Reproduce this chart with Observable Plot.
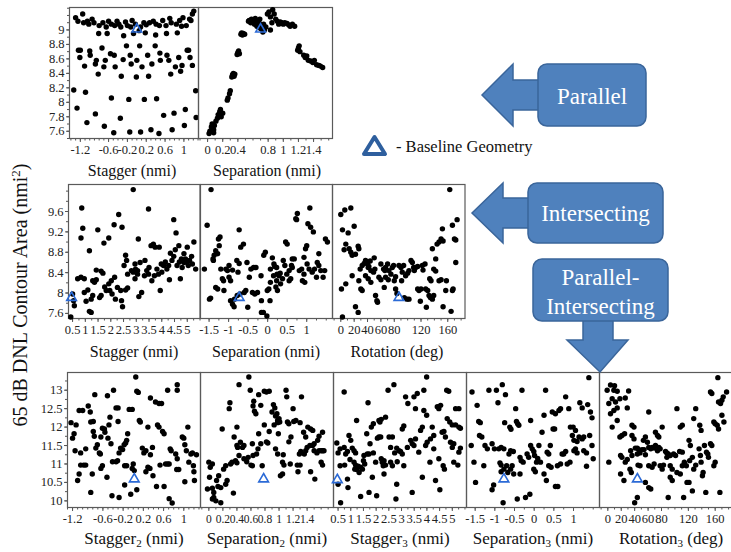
<!DOCTYPE html>
<html><head><meta charset="utf-8">
<script src="https://cdn.jsdelivr.net/npm/d3@7"></script>
<script src="https://cdn.jsdelivr.net/npm/@observablehq/plot@0.6"></script>
<style>
html,body{margin:0;padding:0;background:#fff;}
#wrap{position:relative;width:731px;height:552px;overflow:hidden;background:#fff;font-family:'Liberation Serif',serif;}
#wrap svg text{font-family:'Liberation Serif',serif;}
</style></head>
<body><div id="wrap"></div>
<script>
// ---------- tick labels ----------
const yTopTicks = [7.6,7.8,8,8.2,8.4,8.6,8.8,9];
const yMidTicks = [7.6,8,8.4,8.8,9.2,9.6];
const yBotTicks = [10,10.5,11,11.5,12,12.5,13];
const staggerTicks = [-1.2,-0.6,-0.2,0.2,0.6,1];
const sepTopTicks = [0,0.2,0.4,0.8,1,1.2,1.4];
const sep2Ticks = [0,0.2,0.4,0.6,0.8,1,1.2,1.4];
const staggerBigTicks = [0.5,1,1.5,2,2.5,3,3.5,4,4.5,5];
const sepBigTicks = [-1.5,-1,-0.5,0,0.5,1];
const rotTicks = [0,20,40,60,80,120,160];

// ---------- Parallel: Stagger ----------
const parStagger = [
[-1.3,9.17],[-1.15,9.22],[-1.13,9.10],[-1.02,9.08],[-0.91,9.10],[-0.8,9.06],[-0.72,9.10],[-0.65,9.04],[-0.54,9.08],[-0.47,9.06],
[-0.38,9.08],[-0.34,9.04],[-0.24,9.11],[-0.2,9.06],[-0.13,9.04],[-0.03,9.08],[0.08,9.04],[0.2,9.07],[0.27,9.10],[0.41,9.08],
[0.48,9.06],[0.55,9.13],[0.62,9.06],[0.73,9.10],[0.84,9.08],[0.91,9.13],[0.98,9.17],[1.05,9.06],[1.15,9.13],[1.18,9.22],
[1.21,9.26],[1.12,9.15],[-1.25,9.12],[-0.95,9.15],[-0.6,9.12],[-0.1,9.13],[0.35,9.12],[0.7,9.16],[-0.81,8.95],[-0.63,8.95],
[-0.28,8.92],[-0.07,8.95],[0.18,8.96],[0.4,8.93],[0.63,8.95],[0.86,8.96],[0.05,8.99],[-1.05,9.12],[-0.42,9.12],[0.15,9.1],[0.95,9.05],
[-1.24,8.72],[-1.2,8.72],[-1.21,8.62],[-1.0,8.71],[-0.99,8.65],[-1.11,8.5],[-0.88,8.53],[-0.86,8.58],[-0.82,8.39],[-0.74,8.75],
[-0.67,8.58],[-0.7,8.49],[-0.56,8.67],[-0.48,8.65],[-0.46,8.49],[-0.33,8.36],[-0.29,8.59],[-0.22,8.78],[-0.14,8.65],[-0.12,8.53],
[0.0,8.58],[-0.01,8.35],[0.06,8.78],[0.11,8.49],[0.23,8.65],[0.25,8.36],[0.32,8.53],[0.39,8.78],[0.49,8.68],[0.5,8.58],
[0.64,8.65],[0.68,8.58],[0.72,8.39],[0.82,8.49],[0.89,8.62],[0.93,8.43],[0.96,8.51],[1.07,8.72],[1.1,8.72],[1.13,8.62],[1.18,8.51],
[-1.34,8.17],[-1.27,7.92],[-1.09,8.14],[-1.06,7.72],[-0.88,7.84],[-0.69,7.67],[-0.54,8.06],[-0.49,7.58],[-0.35,7.78],[-0.17,8.04],
[-0.15,7.59],[0.08,7.59],[0.16,8.04],[0.30,7.62],[0.42,8.05],[0.47,7.57],[0.57,7.82],[0.75,7.62],[0.79,7.85],[1.01,7.68],
[1.03,7.9],[1.25,8.16],[1.26,7.79]];
const parStaggerBase = [[0.0,9.01]];

// ---------- Parallel: Separation ----------
const parSep = [
[0.02,7.57],[0.03,7.60],[0.05,7.66],[0.06,7.70],[0.08,7.62],[0.08,7.58],[0.09,7.68],[0.11,7.74],[0.13,7.78],[0.14,7.83],
[0.16,7.87],[0.17,7.90],[0.18,7.80],[0.20,7.85],[0.26,8.03],[0.27,8.06],[0.29,8.12],[0.30,8.16],[0.32,8.35],[0.33,8.38],
[0.34,8.40],[0.35,8.36],[0.36,8.39],[0.39,8.66],[0.40,8.69],[0.41,8.71],[0.42,8.67],[0.44,8.94],[0.45,8.96],[0.46,8.93],
[0.47,8.95],[0.49,8.94],
[0.54,9.12],[0.55,9.13],[0.57,9.10],[0.58,9.15],[0.60,9.13],[0.62,9.08],[0.63,9.16],[0.65,9.05],[0.66,9.12],[0.68,9.10],
[0.70,9.02],[0.71,9.07],[0.73,8.97],[0.75,9.00],[0.77,9.04],[0.79,9.22],[0.81,9.25],[0.83,9.18],[0.85,9.10],[0.86,9.28],
[0.88,9.22],[0.90,9.15],[0.92,9.12],[0.94,9.08],[0.96,9.11],[0.98,9.10],[1.00,9.08],[1.02,9.10],[1.05,9.09],[1.07,9.07],
[1.09,9.05],[1.12,9.08],[1.15,9.05],[0.69,9.15],[0.83,9.0],[0.74,9.08],
[1.19,8.72],[1.20,8.75],[1.21,8.78],[1.22,8.70],[1.27,8.65],[1.29,8.62],[1.31,8.64],[1.33,8.58],[1.36,8.57],[1.39,8.55],
[1.41,8.58],[1.44,8.52],[1.47,8.51],[1.49,8.50],[1.52,8.48]];
const parSepBase = [[0.70,9.01]];

// ---------- Intersecting: Stagger ----------
const intStagger = [
[0.43,7.53],[0.5,7.98],[0.57,7.75],[0.54,7.85],[0.7,8.28],[0.83,8.31],[0.96,8.28],[0.86,9.67],[0.9,9.27],[0.83,9.08],
[0.96,8.01],[1.03,7.84],[1.1,8.06],[1.16,8.83],[1.16,7.64],[1.23,7.62],[1.23,7.88],[1.29,7.95],[1.29,8.24],[1.36,8.21],
[1.43,8.26],[1.43,8.45],[1.49,9.24],[1.56,7.91],[1.62,7.95],[1.69,8.39],[1.62,8.43],[1.73,8.98],[1.76,8.12],[1.82,8.05],
[1.92,8.18],[1.92,9.08],[1.96,8.05],[2.02,8.24],[2.05,7.98],[2.13,9.34],[2.15,8.31],[2.18,7.88],[2.26,8.11],[2.31,9.54],
[2.39,8.05],[2.42,7.85],[2.46,7.73],[2.44,9.29],[2.52,8.54],[2.58,8.74],[2.62,8.64],[2.66,8.37],[2.58,8.06],[2.66,8.1],
[2.88,10.03],[2.81,8.44],[2.88,8.41],[2.95,8.57],[2.97,8.47],[3.05,8.44],[2.95,8.28],[3.05,8.37],[3.08,9.06],[3.1,7.93],
[3.21,8.01],[3.15,8.6],[3.32,8.34],[3.41,8.44],[3.48,8.37],[3.5,8.5],[3.48,9.65],[3.34,8.64],[3.58,8.93],[3.67,8.96],
[3.74,8.9],[3.61,8.24],[3.71,8.34],[3.81,8.47],[3.87,8.37],[3.98,8.57],[4.0,8.41],[4.07,8.54],[3.94,8.05],[3.9,8.9],
[4.14,8.61],[4.2,8.47],[4.27,8.54],[4.3,8.26],[4.34,8.78],[4.4,8.64],[4.47,8.72],[4.47,9.44],[4.56,9.18],[4.53,8.85],
[4.67,8.93],[4.6,8.54],[4.69,8.61],[4.77,8.67],[4.73,8.28],[4.87,8.77],[4.93,8.67],[4.96,8.61],[5.04,8.54],[5.0,8.9],
[5.17,8.72],[5.09,8.64],[5.2,8.57],[5.26,9.0],[5.33,8.47],[4.8,8.5],[4.87,8.6]];
const intStaggerBase = [[0.46,7.91]];

// ---------- Intersecting: Separation ----------
const intSep = [
[-1.62,8.47],[-1.55,9.33],[-1.45,10.03],[-1.49,7.88],[-1.46,7.9],[-1.40,8.67],[-1.39,8.64],[-1.37,8.74],[-1.33,8.83],[-1.28,8.77],
[-1.26,9.06],[-1.22,9.1],[-1.24,8.93],[-1.33,8.11],[-1.28,8.08],[-1.2,8.47],[-1.16,8.28],[-1.13,8.24],[-1.12,8.05],[-1.07,8.47],
[-1.03,8.44],[-0.99,8.54],[-0.99,8.31],[-0.95,8.24],[-0.9,8.45],[-0.95,7.85],[-0.9,7.78],[-0.86,7.73],[-0.85,7.88],[-0.78,7.95],
[-0.71,7.98],[-0.79,8.64],[-0.73,8.58],[-0.73,9.24],[-0.69,8.9],[-0.62,8.96],[-0.76,8.41],[-0.6,8.01],[-0.56,8.05],[-0.53,8.6],
[-0.51,7.72],[-0.47,8.31],[-0.43,8.47],[-0.39,8.01],[-0.33,7.98],[-0.26,8.01],[-0.36,8.5],[-0.3,8.5],[-0.17,8.34],[-0.16,7.85],
[-0.16,7.62],[-0.11,7.62],[-0.02,7.55],[-0.1,8.74],[-0.06,8.8],[-0.01,8.05],[0.03,8.08],[0.07,8.21],[0.06,7.85],[0.07,8.47],
[0.16,8.57],[0.23,8.5],[0.24,8.37],[0.12,8.69],[0.15,8.34],[0.18,8.52],[0.21,8.12],[0.23,8.24],[0.25,8.05],[0.29,8.34],
[0.32,8.39],[0.33,8.18],[0.38,8.28],[0.4,8.64],[0.44,8.54],[0.46,9.0],[0.5,8.96],[0.49,8.37],[0.55,8.44],[0.55,8.24],
[0.59,8.28],[0.61,8.54],[0.63,8.67],[0.68,8.67],[0.63,8.5],[0.72,9.46],[0.76,9.56],[0.74,9.44],[0.81,8.44],[0.87,8.47],
[0.93,8.37],[0.89,8.24],[0.95,8.21],[0.93,8.7],[0.97,8.87],[1.0,8.93],[1.03,9.36],[1.1,9.29],[1.17,9.2],[1.08,9.67],
[1.01,8.57],[1.06,8.47],[1.14,8.41],[1.2,8.47],[1.25,8.31],[1.27,8.6],[1.31,8.54],[1.36,8.44],[1.31,8.77],[1.42,8.31],
[1.46,8.44],[1.48,9.06],[1.53,9.0]];
const intSepBase = [[-0.73,7.91]];

// ---------- Intersecting: Rotation ----------
const intRot = [
[0,9.54],[6,9.63],[15,9.67],[2.5,9.24],[11,9.18],[20,9.31],[5,8.85],[7.5,8.96],[12.5,8.87],[15,8.8],
[17,8.74],[22,8.76],[26,8.92],[27,8.87],[1,8.08],[7.5,8.18],[2.5,7.53],[17,8.34],[22,7.73],[26,7.62],
[27,8.24],[30,8.08],[32,8.05],[29,8.47],[32,8.54],[35,8.58],[37,8.64],[40,8.58],[42,8.52],[41,8.5],
[44,8.63],[37,8.34],[41,8.28],[45,8.21],[45,8.44],[49,8.41],[51,8.47],[50,8.69],[52,7.95],[54,7.85],
[55,7.82],[57,8.31],[60,8.26],[60,8.57],[64,8.47],[66,8.44],[67,8.5],[70,8.57],[65,8.11],[67,8.31],
[71,8.26],[72,8.44],[75,8.37],[77,8.5],[79,8.54],[80,8.24],[82,8.32],[82,8.08],[84,7.99],[87,8.54],
[90,8.5],[92,8.41],[94,8.54],[91,8.24],[95,7.91],[99,7.88],[102,7.88],[97,8.34],[100,8.39],[102,8.44],
[105,8.64],[107,8.6],[109,8.5],[110,8.44],[112,8.5],[115,8.52],[115,8.08],[117,8.05],[120,8.08],[119,7.84],
[122,8.54],[123,8.45],[126,8.57],[128,7.72],[127,8.08],[130,8.05],[132,7.95],[134,7.91],[137,7.88],[139,7.95],
[133,8.28],[135,8.24],[137,8.87],[139,8.47],[142,8.43],[142,8.67],[144,8.96],[147,9.0],[150,9.06],[147,8.24],
[150,8.26],[152,9.26],[153,9.02],[153,7.73],[157,8.05],[158,8.24],[167,9.33],[170,9.06],[172,9.04],[168,8.08],
[167,8.05],[165,7.64],[172,8.6],[163,10.03],[174,9.44]];
const intRotBase = [[87,7.91]];

// ---------- Parallel-Intersecting: Stagger2 ----------
const piStagger2 = [
[-1.23,12.12],[-1.2,11.7],[-1.17,11.82],[-1.13,12.06],[-1.15,11.36],[-1.1,10.55],[-1.07,10.73],[-1.07,12.45],[-1.0,12.45],[-1.04,11.3],
[-1.04,10.97],[-0.98,10.97],[-0.94,10.97],[-0.94,11.41],[-0.89,12.57],[-0.85,12.41],[-0.84,10.23],[-0.84,12.14],[-0.79,12.15],[-0.81,10.73],
[-0.79,11.88],[-0.77,11.75],[-0.76,12.88],[-0.74,11.43],[-0.71,11.52],[-0.67,11.3],[-0.65,11.27],[-0.64,11.73],[-0.64,10.88],[-0.61,10.95],
[-0.61,11.97],[-0.57,11.95],[-0.56,11.86],[-0.52,10.64],[-0.51,12.85],[-0.5,11.7],[-0.46,12.27],[-0.48,12.06],[-0.44,11.55],[-0.42,10.14],
[-0.28,10.09],[-0.41,11.06],[-0.34,11.06],[-0.31,11.09],[-0.39,13.0],[-0.34,12.52],[-0.3,12.52],[-0.3,12.15],[-0.28,11.3],[-0.25,11.43],
[-0.21,11.39],[-0.18,11.52],[-0.15,11.57],[-0.13,11.64],[-0.11,11.82],[-0.17,10.95],[-0.13,10.95],[-0.17,10.43],[-0.08,12.48],[-0.02,12.48],
[-0.05,10.18],[-0.02,10.88],[0.02,10.82],[0.0,11.0],[0.05,13.36],[0.07,12.97],[0.1,12.94],[0.07,10.3],[0.12,12.18],[0.14,12.14],
[0.18,11.43],[0.21,11.3],[0.25,11.36],[0.25,10.79],[0.29,10.91],[0.33,10.88],[0.29,12.0],[0.34,11.25],[0.38,11.45],[0.34,12.79],
[0.39,10.68],[0.44,12.68],[0.51,12.64],[0.56,12.64],[0.46,10.39],[0.48,12.06],[0.51,12.0],[0.53,10.97],[0.58,11.88],[0.61,11.82],
[0.61,10.39],[0.64,11.0],[0.68,11.0],[0.71,11.0],[0.68,13.0],[0.71,10.06],[0.73,11.41],[0.75,11.36],[0.77,9.94],[0.84,11.27],
[0.87,11.14],[0.87,13.15],[0.87,13.0],[0.86,10.85],[0.9,10.85],[0.97,11.73],[1.0,11.7],[1.02,11.52],[1.02,10.52],[1.05,11.36],
[1.08,12.0],[1.1,11.05],[1.14,11.27],[1.17,11.3],[1.19,10.95],[1.2,10.79],[1.21,10.55],[1.25,11.25]];
const piStagger2Base = [[0.02,10.59]];

// ---------- Parallel-Intersecting: Separation2 ----------
const piSep2 = [
[0,11.05],[0.02,10.91],[0.05,11.0],[0.01,10.64],[-0.02,10.32],[0.05,10.34],[0.07,10.23],[0.05,10.05],[0.07,10.09],[0.1,10.0],
[0.11,10.55],[0.14,10.68],[0.13,10.39],[0.17,10.36],[0.17,9.95],[0.21,10.86],[0.24,10.95],[0.19,11.95],[0.24,10.45],[0.26,10.55],
[0.31,11.0],[0.33,11.05],[0.29,12.5],[0.3,12.66],[0.35,10.21],[0.36,11.73],[0.4,11.5],[0.41,11.45],[0.38,11.09],[0.4,11.03],
[0.43,11.23],[0.4,12.0],[0.43,13.15],[0.45,11.59],[0.48,11.45],[0.5,11.5],[0.5,11.14],[0.54,11.06],[0.56,11.18],[0.57,13.36],
[0.59,13.0],[0.6,10.97],[0.62,10.95],[0.62,11.55],[0.63,11.23],[0.64,12.7],[0.63,12.57],[0.65,12.43],[0.67,12.36],[0.68,11.27],
[0.7,11.41],[0.71,12.88],[0.74,12.59],[0.74,11.55],[0.71,11.82],[0.76,10.95],[0.79,12.97],[0.82,12.95],[0.86,12.97],[0.79,12.06],
[0.82,11.6],[0.84,11.57],[0.86,11.88],
[0.9,12.41],[0.94,12.52],[0.97,12.36],[0.93,12.06],[0.92,12.61],[0.95,12.3],[0.98,12.18],[1.0,12.23],[0.98,12.12],[1.01,12.14],
[0.95,11.41],[0.98,11.27],[0.99,11.82],[1.05,11.05],[1.07,10.97],[1.05,10.73],[1.02,10.68],[1.06,11.25],[1.1,13.0],[1.11,12.82],
[1.12,12.14],[1.14,12.09],[1.14,11.6],[1.17,11.73],[1.16,11.0],[1.2,12.5],[1.21,12.15],[1.24,12.18],[1.26,10.97],[1.3,10.97],
[1.29,11.27],[1.31,11.34],[1.27,10.79],[1.32,12.82],[1.3,12.12],[1.35,11.86],[1.38,11.73],[1.36,11.27],[1.38,11.36],[1.4,11.45],
[1.41,12.0],[1.45,11.95],[1.48,11.91],[1.44,11.5],[1.48,11.5],[1.5,11.55],[1.45,10.79],[1.51,10.59],[1.5,11.36],[1.54,11.3],
[1.57,11.36],[1.55,11.64],[1.57,11.75],[1.6,11.36],[1.62,11.36],[1.64,11.36],[1.6,11.05],[1.62,10.97],[1.62,11.86]];
const piSep2Base = [[0.78,10.59]];

// ---------- Parallel-Intersecting: Stagger3 ----------
const piStagger3 = [
[0.45,11.57],[0.5,11.3],[0.58,11.41],[0.5,10.45],[0.6,9.95],[0.58,10.95],[0.74,12.95],[0.74,11.45],[0.8,11.27],[0.87,11.34],
[0.76,10.97],[0.87,10.59],[0.89,10.36],[0.93,11.77],[1.0,11.64],[0.97,11.12],[1.06,11.43],[1.13,11.36],[1.19,11.3],[1.13,11.05],
[1.19,10.97],[1.16,10.86],[1.23,10.85],[1.29,10.94],[1.23,12.18],[1.33,10.77],[1.39,10.91],[1.46,10.86],[1.39,10.12],[1.5,11.09],
[1.55,11.0],[1.52,11.23],[1.63,11.82],[1.68,12.66],[1.65,11.27],[1.72,11.27],[1.76,11.55],[1.72,10.23],[1.81,12.0],[1.89,12.09],
[1.85,10.64],[1.89,11.3],[1.98,11.05],[2.02,10.14],[2.05,11.7],[2.11,11.73],[2.18,11.73],[2.11,12.18],[2.15,12.14],[2.2,12.21],
[2.2,11.14],[2.28,10.95],[2.24,11.05],[2.31,11.09],[2.37,10.97],[2.31,10.73],[2.37,12.27],[2.47,13.0],[2.7,13.15],[2.51,11.73],
[2.57,11.45],[2.64,11.73],[2.57,11.05],[2.64,10.95],[2.73,11.3],[2.81,11.43],[2.81,10.45],[2.78,10.05],[2.83,11.06],[2.9,11.36],
[2.96,11.34],[3.03,11.27],[3.03,11.95],[3.09,12.03],[3.09,10.95],[3.16,12.82],[3.25,12.64],[3.23,11.45],[3.36,11.64],[3.42,11.55],
[3.49,11.5],[3.55,11.68],[3.42,10.23],[3.49,12.82],[3.62,12.91],[3.55,12.5],[3.68,11.32],[3.75,11.91],[3.82,12.0],[3.82,10.64],
[3.88,13.0],[3.99,13.36],[3.88,12.45],[3.99,12.32],[3.95,11.5],[4.01,11.59],[4.14,11.68],[4.12,11.05],[4.21,12.0],[4.27,11.77],
[4.27,11.41],[4.34,10.55],[4.41,12.55],[4.47,12.5],[4.54,12.59],[4.47,11.14],[4.51,10.3],[4.6,11.86],[4.67,11.88],[4.73,11.73],
[4.64,10.95],[4.69,10.86],[4.78,13.0],[4.86,12.97],[4.8,12.23],[4.9,12.14],[5.0,12.06],[4.93,11.59],[5.0,11.45],[5.06,11.55],
[5.06,11.05],[5.13,12.5],[5.26,12.5],[5.13,12.06],[5.26,12.0],[5.32,11.97],[5.26,11.32],[5.32,11.43],[5.22,10.97]];
const piStagger3Base = [[0.47,10.57]];

// ---------- Parallel-Intersecting: Separation3 ----------
const piSep3 = [
[-1.6,11.5],[-1.58,12.95],[-1.53,11.05],[-1.49,10.5],[-1.45,12.59],[-1.41,12.15],[-1.37,12.12],[-1.39,11.77],[-1.33,11.73],[-1.28,10.95],
[-1.15,13.0],[-1.25,11.5],[-1.19,11.41],[-1.07,11.55],[-1.01,11.41],[-1.03,10.43],[-1.07,10.3],[-0.96,13.0],[-0.81,13.15],[-0.92,12.66],
[-0.9,11.41],[-0.84,11.45],[-0.77,11.41],[-0.87,11.03],[-0.84,10.97],[-0.84,10.79],[-0.77,10.86],[-0.7,10.95],[-0.79,9.95],[-0.73,12.88],
[-0.75,12.12],[-0.64,11.27],[-0.6,11.36],[-0.53,11.34],[-0.62,12.0],[-0.59,11.94],[-0.67,10.77],[-0.6,10.86],[-0.56,10.95],[-0.52,10.73],
[-0.47,12.5],[-0.45,12.15],[-0.42,12.09],[-0.39,12.05],[-0.43,10.05],[-0.36,11.18],[-0.33,11.09],[-0.28,11.05],[-0.36,10.73],[-0.31,13.0],
[-0.22,10.09],[-0.11,10.18],[-0.18,11.27],[-0.14,11.18],[-0.09,11.5],[-0.09,12.18],[-0.05,11.41],[-0.01,11.34],[0.01,11.23],[-0.01,10.86],
[0.03,10.79],[0.06,11.05],[0.09,11.15],[0.12,11.5],[0.16,11.05],[0.2,11.86],[0.25,12.32],[0.29,13.0],[0.25,10.73],[0.31,10.55],
[0.33,11.32],[0.37,11.27],[0.41,11.5],[0.37,10.95],[0.43,10.91],[0.46,12.41],[0.54,12.36],[0.48,11.95],[0.52,11.95],[0.54,10.39],
[0.6,10.39],[0.63,12.45],[0.67,12.5],[0.59,10.95],[0.67,11.0],[0.71,11.27],[0.75,11.27],[0.8,11.34],[0.8,12.82],[0.84,11.0],
[0.91,11.05],[0.88,12.5],[0.92,12.0],[0.99,12.0],[1.05,11.91],[0.97,11.77],[1.01,11.64],[1.09,11.61],[1.01,11.36],[1.05,11.41],
[1.09,11.3],[1.14,11.73],[1.16,12.66],[1.22,12.52],[1.22,11.68],[1.26,11.73],[1.26,11.36],[1.33,11.3],[1.33,10.94],[1.36,12.61],
[1.39,13.34],[1.43,12.41],[1.47,12.25],[1.47,11.5],[1.5,11.14],[1.41,11.77]];
const piSep3Base = [[-0.77,10.59]];

// ---------- Parallel-Intersecting: Rotation3 ----------
const piRot3 = [
[-1,13.0],[4,13.14],[9,13.0],[14,12.97],[10,13.12],[1.5,12.64],[6.5,12.77],[11.5,12.68],[4,12.36],[9,12.45],
[14,12.52],[1.5,11.05],[6.5,12.0],[18,11.73],[21,11.77],[25,11.82],[18,12.77],[26,12.79],[14,12.18],[19,11.23],
[21,11.18],[19,10.73],[24,10.55],[31,12.98],[29,12.52],[26,11.05],[29,11.12],[34,11.36],[36,11.23],[36,12.05],
[39,12.0],[36,11.77],[39,11.68],[33,10.86],[35,10.77],[41,11.43],[44,11.43],[48,11.3],[44,11.27],[46,11.39],
[40,9.95],[44,10.09],[45,10.97],[48,10.95],[51,11.39],[54,11.39],[56,11.25],[53,11.64],[56,11.73],[59,11.59],
[56,10.5],[61,12.41],[61,11.45],[64,11.41],[66,11.45],[69,11.43],[61,10.36],[64,10.32],[61,10.95],[66,10.91],
[69,11.0],[71,11.86],[74,11.77],[76,11.73],[71,11.5],[74,11.36],[76,11.45],[78,11.41],[81,12.0],[78,10.95],
[81,10.86],[83,10.97],[86,11.34],[88,11.3],[90,11.27],[88,11.18],[93,11.23],[90,10.09],[93,10.95],[96,10.86],
[93,10.64],[96,10.55],[98,11.27],[101,11.23],[103,12.5],[103,10.77],[108,10.73],[111,10.95],[107,11.34],[111,11.32],
[108,12.0],[111,12.05],[113,10.09],[114,11.05],[117,10.95],[118,10.5],[121,10.5],[121,11.64],[123,11.5],[122,11.09],
[126,11.18],[126,10.27],[128,10.86],[131,10.97],[128,12.23],[131,12.5],[136,11.41],[138,11.23],[139,11.05],[137,12.05],
[139,11.91],[141,10.68],[142,10.77],[144,11.5],[147,11.32],[146,10.23],[149,11.27],[150,11.18],[153,12.95],[155,12.91],
[153,11.55],[155,11.5],[158,12.14],[160,12.09],[158,10.95],[160,11.05],[164,13.34],[165,12.68],[168,12.64],[163,12.05],
[165,11.95],[167,10.23],[170,12.73],[172,12.82],[170,12.32],[173,12.14],[177,12.95]];
const piRot3Base = [[44,10.59]];

// ---------- drawing ----------
const SERIF = "Liberation Serif";
const wrap = document.getElementById("wrap");
const fmt = d => String(+(+d).toFixed(3));
const minorTicks = (dom, step) => {
  const a = Math.ceil(dom[0]/step - 1e-9), b = Math.floor(dom[1]/step + 1e-9);
  return d3.range(a, b + 1).map(i => +(i*step).toFixed(4));
};

function panel(o) {
  const ml = 40, mr = 3, mt = 3, mb = 28;
  const w = o.x1 - o.x0, h = o.y1 - o.y0;
  const fs = o.xFont || 12.5;
  const marks = [
    Plot.axisX({ticks: minorTicks(o.xd, o.xStep), tickSize: 2.5, tickFormat: () => "", label: null, stroke: "#555"}),
    Plot.axisX({ticks: o.xt, tickSize: 4, tickPadding: 3, tickFormat: fmt, label: null, fontSize: fs, fontFamily: SERIF, fill: "#222", stroke: "#555"}),
  ];
  if (o.yAxis) {
    marks.push(Plot.axisY({ticks: minorTicks(o.yd, o.yStep), tickSize: 2, tickFormat: () => "", label: null, stroke: "#555"}));
    marks.push(Plot.axisY({ticks: o.yt, tickSize: 3, tickPadding: 2, tickFormat: fmt, label: null, fontSize: 12.5, fontFamily: SERIF, fill: "#222", stroke: "#555"}));
  }
  marks.push(
    Plot.frame({stroke: "#5a5a5a", strokeWidth: 1.2}),
    Plot.dot(o.data, {x: d => d[0], y: d => d[1], r: 2.7, fill: "#000"}),
    Plot.dot(o.base, {x: d => d[0], y: d => d[1], symbol: "triangle", r: 3.6, stroke: "#2b6ad6", strokeWidth: 1.6, fill: "none"})
  );
  const svg = Plot.plot({
    width: w + ml + mr, height: h + mt + mb,
    marginLeft: ml, marginRight: mr, marginTop: mt, marginBottom: mb,
    x: {domain: o.xd, axis: null},
    y: {domain: o.yd, axis: null},
    style: {background: "transparent", overflow: "visible", fontSize: "12.5px", color: "#222"},
    marks
  });
  svg.setAttribute("font-family", SERIF);
  svg.style.fontFamily = "'Liberation Serif', serif";
  svg.style.position = "absolute";
  svg.style.left = (o.x0 - ml) + "px";
  svg.style.top = (o.y0 - mt) + "px";
  svg.style.maxWidth = "none";
  svg.style.background = "transparent";
  svg.style.overflow = "visible";
  wrap.appendChild(svg);
}

// top row (Parallel)
const topY = [7.5, 9.31];
panel({data: parStagger, base: parStaggerBase, xd: [-1.43, 1.31], xt: staggerTicks, xStep: 0.1, yd: topY, yt: yTopTicks, yStep: 0.1, yAxis: true, x0: 69, x1: 198, y0: 7, y1: 138});
panel({data: parSep, base: parSepBase, xd: [-0.12, 1.65], xt: sepTopTicks, xStep: 0.1, yd: topY, x0: 198, x1: 332, y0: 7, y1: 138});

// middle row (Intersecting)
const midY = [7.5, 10.13];
panel({data: intStagger, base: intStaggerBase, xd: [0.34, 5.5], xt: staggerBigTicks, xStep: 0.25, yd: midY, yt: yMidTicks, yStep: 0.2, yAxis: true, x0: 68, x1: 199.5, y0: 184, y1: 318});
panel({data: intSep, base: intSepBase, xd: [-1.72, 1.66], xt: sepBigTicks, xStep: 0.25, yd: midY, x0: 199.5, x1: 331.5, y0: 184, y1: 318});
panel({data: intRot, base: intRotBase, xd: [-12.4, 185.8], xt: rotTicks, xStep: 10, yd: midY, x0: 331.5, x1: 464, y0: 184, y1: 318});

// bottom row (Parallel-Intersecting)
const botY = [9.82, 13.48];
panel({data: piStagger2, base: piStagger2Base, xd: [-1.3, 1.33], xt: staggerTicks, xStep: 0.1, yd: botY, yt: yBotTicks, yStep: 0.25, yAxis: true, x0: 67, x1: 200, y0: 372, y1: 507});
panel({data: piSep2, base: piSep2Base, xd: [-0.119, 1.776], xt: sep2Ticks, xStep: 0.1, xFont: 11.5, yd: botY, x0: 200, x1: 333, y0: 372, y1: 507});
panel({data: piStagger3, base: piStagger3Base, xd: [0.32, 5.56], xt: staggerBigTicks, xStep: 0.25, yd: botY, x0: 333, x1: 466, y0: 372, y1: 507});
panel({data: piSep3, base: piSep3Base, xd: [-1.72, 1.66], xt: sepBigTicks, xStep: 0.25, yd: botY, x0: 466, x1: 599, y0: 372, y1: 507});
panel({data: piRot3, base: piRot3Base, xd: [-12.4, 185.8], xt: rotTicks, xStep: 10, yd: botY, x0: 599, x1: 732, y0: 372, y1: 507});

// ---------- annotations (titles, arrows, legend) ----------
const NS = "http://www.w3.org/2000/svg";
const ov = document.createElementNS(NS, "svg");
ov.setAttribute("width", 731); ov.setAttribute("height", 552);
ov.style.position = "absolute"; ov.style.left = "0"; ov.style.top = "0";
wrap.appendChild(ov);
function el(tag, attrs, parent = ov) {
  const e = document.createElementNS(NS, tag);
  for (const k in attrs) e.setAttribute(k, attrs[k]);
  if (tag === "text") e.setAttribute("font-family", SERIF);
  parent.appendChild(e);
  return e;
}
function label(x, y, main, sub, rest, size) {
  const t = el("text", {x, y, "text-anchor": "middle", "font-size": size, fill: "#111"});
  t.appendChild(document.createTextNode(main));
  if (sub) {
    const s = el("tspan", {dy: 3, "font-size": size * 0.65}, t);
    s.textContent = sub;
    const r = el("tspan", {dy: -3}, t);
    r.textContent = rest;
  } else {
    t.appendChild(document.createTextNode(rest));
  }
}
// axis titles
label(132, 176, "Stagger", "", " (nmi)", 16);
label(267, 176, "Separation", "", " (nmi)", 16);
label(134, 357, "Stagger", "", " (nmi)", 16);
label(266, 357, "Separation", "", " (nmi)", 16);
label(397, 357, "Rotation", "", " (deg)", 16);
label(134, 544, "Stagger", "2", " (nmi)", 17);
label(267, 544, "Separation", "2", " (nmi)", 17);
label(400, 544, "Stagger", "3", " (nmi)", 17);
label(533, 544, "Separation", "3", " (nmi)", 17);
label(671, 544, "Rotation", "3", " (deg)", 17);

// y title
const yt = el("text", {x: 0, y: 0, transform: "translate(27,295) rotate(-90)", "text-anchor": "middle", "font-size": 20, fill: "#111"});
yt.appendChild(document.createTextNode("65 dB DNL Contour Area (nmi"));
const sup = el("tspan", {dy: -7, "font-size": 13}, yt); sup.textContent = "2";
const cl = el("tspan", {dy: 7}, yt); cl.textContent = ")";

// arrows & boxes
const F = "#4f81bd", S = "#3a659a";
el("polygon", {points: "482,95 513,64 513,80 542,80 542,110 513,110 513,126", fill: F, stroke: S, "stroke-width": 1.5});
el("rect", {x: 538, y: 64, width: 108, height: 62, rx: 9, fill: F, stroke: S, "stroke-width": 1.5});
el("text", {x: 592, y: 104, "text-anchor": "middle", "font-size": 23, fill: "#fff"}).textContent = "Parallel";

el("polygon", {points: "472,213 503,183 503,198 532,198 532,228 503,228 503,243", fill: F, stroke: S, "stroke-width": 1.5});
el("rect", {x: 528, y: 183, width: 135, height: 60, rx: 9, fill: F, stroke: S, "stroke-width": 1.5});
el("text", {x: 595.5, y: 221, "text-anchor": "middle", "font-size": 23, fill: "#fff"}).textContent = "Intersecting";

el("polygon", {points: "583,316 613,316 613,340 628,340 600,372 567,340 583,340", fill: F, stroke: S, "stroke-width": 1.5});
el("rect", {x: 533, y: 259, width: 135, height: 62, rx: 9, fill: F, stroke: S, "stroke-width": 1.5});
el("text", {x: 600.5, y: 285, "text-anchor": "middle", "font-size": 23, fill: "#fff"}).textContent = "Parallel-";
el("text", {x: 600.5, y: 314, "text-anchor": "middle", "font-size": 23, fill: "#fff"}).textContent = "Intersecting";

// legend
el("polygon", {points: "374.5,137 385,154 364,154", fill: "none", stroke: "#2e5f9e", "stroke-width": 4, "stroke-linejoin": "round"});
el("text", {x: 396, y: 152, "font-size": 16.5, fill: "#111"}).textContent = "- Baseline Geometry";
</script>
</body></html>
